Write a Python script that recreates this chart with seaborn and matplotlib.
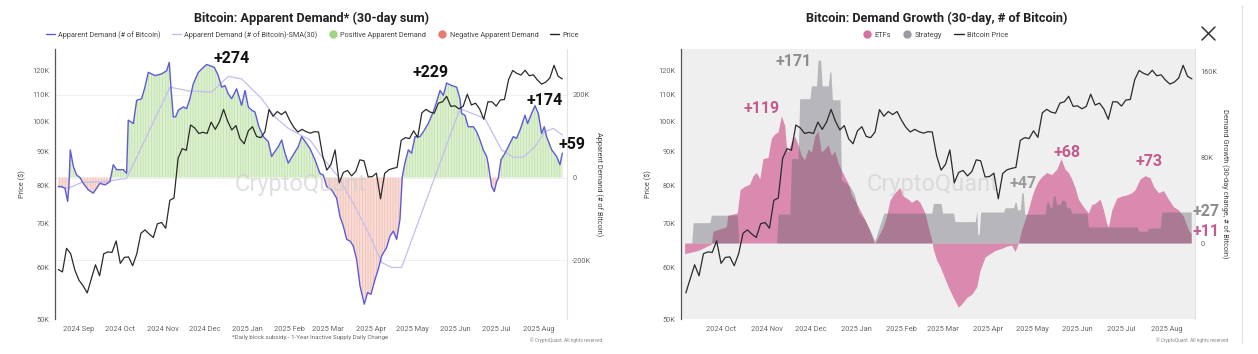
import matplotlib.pyplot as plt
import matplotlib.dates as mdates
import matplotlib.ticker as mticker
from matplotlib.lines import Line2D
import numpy as np
import pandas as pd
import seaborn as sns

sns.set_style('white')
plt.rcParams['font.family'] = ['Roboto', 'DejaVu Sans']
plt.rcParams['hatch.linewidth'] = 0.45

W, H = 1258, 354
DAY0 = pd.Timestamp('2024-09-01')

# BTC price (thousand $), every 3 days from 2024-08-17
price_k = [59.5, 59.0, 64.1, 62.9, 59.4,
           57.3, 56.2, 54.8, 57.6, 60.5, 58.2, 62.9, 63.3, 63.2, 65.8,
           60.8, 62.1, 62.2, 60.3, 62.9, 67.6, 68.4, 67.4, 66.6, 69.9, 70.2,
           68.8, 75.9, 76.5, 88.0, 91.0, 90.5, 98.9, 97.9, 96.0, 96.4,
           96.0, 99.9, 97.4, 100.0, 104.5, 100.2, 97.2, 98.7, 94.2, 92.6,
           96.9, 98.3, 95.0, 94.6, 96.5, 104.4, 102.0, 103.7, 102.6, 103.7,
           100.6, 98.1, 96.5, 97.4, 96.6, 96.1, 96.6, 96.5, 88.7, 84.4,
           86.1, 90.6, 80.7, 83.7, 84.3, 82.7, 84.0, 87.5, 87.2, 82.4,
           82.5, 83.5, 76.3, 83.4, 84.5, 84.9, 85.2, 93.7, 94.6, 94.3,
           96.9, 94.7, 103.2, 104.5, 103.5, 103.1, 106.8, 107.3, 109.4, 105.6,
           105.8, 104.7, 105.6, 110.2, 106.1, 106.8, 104.6, 100.9, 107.3, 107.3,
           105.7, 108.0, 108.2, 116.0, 119.8, 118.6, 117.9, 119.9, 117.6, 118.0, 115.8,
           114.2, 115.0, 116.7, 122.0, 117.4, 116.3]
price_dates = pd.date_range('2024-08-17', periods=len(price_k), freq='3D')

# apparent demand, 30-day sum (thousand BTC); x = days after 2024-09-01
demand_day = [-15.0, -12.6, -10.2, -8.2, -7.3, -6.3, -4.1, -1.7, 0.7, 3.1, 6.8, 10.4, 12.8, 15.3,
              18.9, 22.5, 24.9, 27.4, 32.2, 34.6, 35.8, 39.5, 41.9, 45.5, 47.9, 50.4, 52.8, 55.2,
              60.0, 63.7, 65.6, 66.8, 68.5, 70.2, 72.1, 75.8, 78.2, 80.6, 83.0, 86.7, 89.1, 92.7,
              95.1, 98.3, 101.2, 103.6, 106.0, 108.4, 110.9, 114.5, 118.1, 120.6, 123.0, 125.4,
              127.8, 130.7, 133.9, 137.5, 139.9, 142.3, 144.8, 147.2, 149.6, 152.0, 155.6, 159.3,
              161.7, 164.1, 167.8, 171.4, 175.0, 177.4, 179.9, 183.5, 187.1, 189.5, 192.0, 194.4,
              196.8, 199.2, 201.6, 204.1, 207.2, 209.6, 212.1, 215.0, 217.4, 219.8, 223.4, 225.9,
              228.3, 230.7, 233.1, 234.8, 236.7, 239.2, 241.6, 244.0, 247.6, 250.1, 253.7, 257.3,
              259.7, 262.2, 264.6, 267.0, 270.6, 274.3, 276.7, 277.9, 280.3, 282.7, 286.4, 288.8,
              291.2, 293.6, 296.1, 297.3, 299.7, 301.6, 303.3, 304.5, 306.5, 309.4, 313.0, 315.4,
              317.8, 320.3, 323.9, 325.8, 328.7, 331.2, 333.6, 336.0, 337.9, 339.6, 343.3, 346.9,
              349.3, 351.0]
demand_k = [-22, -22, -26, -58, -22, 67, 27, 6, 0, -14, -30, -38, -26, -14,
            -18, -10, 31, 19, 19, 10, 139, 131, 187, 191, 219, 255, 251, 247,
            251, 259, 279, 219, 147, 147, 163, 171, 167, 191, 227, 255, 263, 274,
            271, 267, 247, 219, 223, 203, 191, 215, 175, 211, 171, 163,
            159, 123, 99, 87, 51, 63, 75, 91, 59, 35, 55, 75,
            99, 88, 70, 43, 10, 6, -22, -30, -50, -94, -118, -150,
            -154, -166, -198, -263, -307, -279, -283, -247, -222, -190, -170, -142,
            -130, -150, -102, 2, 35, 67, 59, 99, 99, 111, 131, 159,
            183, 211, 199, 229, 223, 219, 191, 155, 151, 123, 123, 111,
            91, 67, 51, 31, -22, -34, -10, -2, 43, 59, 83, 99,
            95, 115, 151, 131, 155, 174, 155, 107, 123, 99, 67, 51,
            31, 59]

sma_day = [-15, -7.7, 1.9, 18.9, 34.6, 66.1, 79.4, 96.3, 108.4, 118.1, 132.7, 142.3, 152.0,
           167.8, 176.2, 188.3, 200.4, 212.6, 219.8, 227.1, 234.3, 276.7, 294.8, 306.9,
           315.4, 322.7, 331.2, 338.4, 344.5, 351.0]
sma_k = [-22, -26, -12, -10, -2, 219, 210, 207, 245, 239, 191, 147, 119,
         91, 51, 2, -70, -150, -206, -218, -218, 167, 143, 67,
         49, 49, 75, 111, 119, 103]

# demand growth, 30-day change (thousand BTC)
etf_day = [5.2, 14.3, 18.9, 23.4, 24.5, 31.0, 33.5, 34.6, 41.0, 43.0, 46.1, 49.5, 51.8, 54.1,
           56.4, 58.6, 62.0, 64.3, 66.6, 68.9, 71.1, 73.4, 74.5, 75.7, 78.0, 80.2, 82.5, 84.8,
           87.0, 89.3, 91.6, 93.9, 96.1, 98.4, 100.7, 103.0, 105.2, 107.5, 109.8, 112.1, 114.3,
           116.6, 118.9, 121.2, 123.5, 126.9, 128.0, 131.4, 134.8, 137.1, 140.5, 142.8, 145.1,
           148.5, 151.9, 154.2, 157.6, 159.9, 163.3, 165.6, 169.0, 171.3, 173.6, 174.7, 177.0,
           179.3, 184.9, 188.3, 191.8, 194.1, 197.5, 200.9, 204.3, 206.5, 210.0, 213.4, 216.8,
           221.3, 224.7, 228.1, 230.4, 232.7, 235.0, 239.5, 241.8, 244.1, 246.3, 248.6, 252.0,
           255.4, 258.8, 261.8, 264.5, 266.8, 269.0, 271.3, 273.6, 277.0, 280.4, 282.7, 285.0,
           288.4, 290.7, 292.9, 294.1, 296.4, 299.8, 303.2, 306.6, 310.0, 312.3, 315.7, 319.1,
           322.5, 324.8, 328.2, 331.6, 335.0, 338.4, 341.8, 345.2, 348.7, 350.5]
etf_k = [-10, -7, -4, -1, 11, 14, 15, 26, 28, 50, 53, 55, 63, 66,
         60, 79, 80, 98, 102, 104, 119, 110, 91, 85, 95, 100, 92, 82,
         78, 88, 85, 100, 105, 85, 88, 92, 82, 86, 75, 68, 62,
         56, 45, 40, 34, 25, 22, 12, -1, 6, 15, 25, 40,
         47, 52, 44, 41, 38, 41, 38, 28, 15, 3, -6, -16,
         -22, -41, -51, -60, -57, -51, -48, -41, -26, -13, -10, -7,
         -5, -3, -2, -8, 0, 13, 31, 43, 52, 58, 62, 66,
         64, 69, 79, 69, 66, 60, 52, 41, 34, 28, 36, 37,
         41, 31, 18, 15, 31, 42, 44, 45, 47, 50, 60, 63,
         61, 53, 47, 49, 41, 34, 31, 25, 12, 9]

strategy_day = [5.2, 10.0, 11.0, 22.4, 23.4, 41.0, 42.0, 67.9, 68.9, 77.0, 78.0, 82.6, 83.6, 90.6,
                91.6, 95.1, 96.1, 97.9, 98.9, 103.1, 104.1, 104.9, 105.9, 111.1, 112.1, 118.0,
                121.0, 124.0, 128.0, 134.8, 141.0, 173.7, 174.7, 180.0, 181.0, 188.5, 189.5,
                203.3, 204.3, 205.0, 206.0, 207.0, 222.6, 223.6, 229.4, 230.4, 231.2, 232.2,
                234.0, 235.0, 236.0, 237.0, 251.0, 252.0, 253.3, 254.3, 255.6, 256.6, 257.8,
                258.8, 261.2, 262.2, 264.6, 265.6, 268.0, 269.0, 279.4, 280.4, 313.6, 314.6,
                320.4, 321.4, 329.5, 330.5, 350.5]
strategy_k = [0, 0, 19, 19, 26, 26, 0, 0, 27, 27, 79, 79, 135, 135,
              147, 147, 171, 171, 147, 147, 160, 160, 134, 134, 59, 53,
              45, 28, 22, 2, 28, 28, 37, 37, 28, 28, 20,
              20, 30, 8, 8, 29, 29, 33, 33, 38, 38, 31,
              31, 47, 47, 27, 27, 38, 38, 33, 33, 44, 44,
              36, 36, 40, 40, 33, 33, 28, 28, 15, 15, 11,
              11, 14, 14, 29, 29]


def to_dates(days):
    return DAY0 + pd.to_timedelta(np.asarray(days, dtype=float), unit='D')


def px_box(x0, y0, x1, y1):
    return [x0 / W, 1 - y1 / H, (x1 - x0) / W, (y1 - y0) / H]


def kfmt(v, pos):
    return '0' if v == 0 else f'{int(round(v / 1000))}K'


def style_price_axis(ax, xlim):
    ax.set_yscale('log')
    ax.set_ylim(50000, 129200)
    ax.yaxis.set_major_locator(mticker.FixedLocator([50000, 60000, 70000, 80000, 90000,
                                                     100000, 110000, 120000]))
    ax.yaxis.set_minor_locator(mticker.NullLocator())
    ax.yaxis.set_major_formatter(mticker.FuncFormatter(kfmt))
    ax.set_xlim(*xlim)
    ax.xaxis.set_major_locator(mdates.MonthLocator())
    ax.xaxis.set_major_formatter(mdates.DateFormatter('%Y %b'))
    ax.tick_params(axis='both', length=0, labelsize=5.3, colors='#666')
    ax.tick_params(axis='x', pad=5)
    ax.tick_params(axis='y', pad=4)
    ax.set_xlabel('')
    ax.set_ylabel('Price ($)', fontsize=5.3, color='#444', labelpad=4)
    for s in ['top', 'right', 'bottom']:
        ax.spines[s].set_visible(False)
    ax.spines['left'].set_color('#555')
    ax.spines['left'].set_linewidth(0.9)


fig = plt.figure(figsize=(W / 100, H / 100), dpi=100)

# ---------------- left chart ----------------
ax1 = fig.add_axes(px_box(55, 49, 566.7, 319))
axd = ax1.twinx()
ax1.set_zorder(axd.get_zorder() + 1)
ax1.patch.set_visible(False)

dd = to_dates(demand_day)
dv = np.array(demand_k) * 1000.0
sns.lineplot(x=dd, y=dv, ax=axd, color='#5c5cd8', linewidth=1.0, zorder=4)
axd.fill_between(dd, 0, dv, where=dv >= 0, interpolate=True, facecolor='#ddf0d0',
                 edgecolor='#b9dea2', hatch='||||||', linewidth=0, zorder=2)
axd.fill_between(dd, 0, dv, where=dv <= 0, interpolate=True, facecolor='#f8dcd5',
                 edgecolor='#eeb9ae', hatch='||||||', linewidth=0, zorder=2)
sns.lineplot(x=to_dates(sma_day), y=np.array(sma_k) * 1000.0, ax=axd, color='#c3bdf0',
             linewidth=0.9, zorder=3)
axd.set_ylim(-343000, 311500)
axd.set_yticks([-200000, 0, 200000])
axd.yaxis.set_major_formatter(mticker.FuncFormatter(kfmt))
axd.tick_params(axis='y', length=0, labelsize=5.3, colors='#666', pad=4)
axd.grid(axis='y', color='#ececec', linewidth=0.6)
axd.set_axisbelow(True)
axd.set_ylabel('Apparent Demand (# of Bitcoin)', rotation=270, fontsize=5.3, color='#444',
               labelpad=8)
for s in ['top', 'left', 'bottom']:
    axd.spines[s].set_visible(False)
axd.spines['right'].set_color('#e2e2e2')
axd.spines['right'].set_linewidth(0.8)

sns.lineplot(x=price_dates, y=np.array(price_k) * 1000.0, ax=ax1, color='#2a2a2a',
             linewidth=0.9)
style_price_axis(ax1, (DAY0 + pd.Timedelta(days=-17.4), DAY0 + pd.Timedelta(days=354.2)))

axd.text(0.48, 0.5, 'CryptoQuant', transform=axd.transAxes, fontsize=17, color='#d2d2d2',
         alpha=0.7, ha='center', va='center', zorder=10)
for day, val, txt in [(110.9, 289000, '+274'), (255.1, 255000, '+229'),
                      (338.4, 186000, '+174'), (358.0, 81000, '+59')]:
    axd.text(DAY0 + pd.Timedelta(days=day), val, txt, fontsize=11.5, fontweight='bold',
             color='#111', ha='center', va='center', zorder=12, clip_on=False)

fig.text(312 / W, 1 - 18 / H, 'Bitcoin: Apparent Demand* (30-day sum)', ha='center',
         va='center', fontsize=9.2, fontweight='bold', color='#222')
h_left = [Line2D([], [], color='#5c5cd8', lw=1.0),
          Line2D([], [], color='#c3bdf0', lw=1.0),
          Line2D([], [], color='#9fd483', marker='o', ls='none', markersize=5),
          Line2D([], [], color='#e57c72', marker='o', ls='none', markersize=5),
          Line2D([], [], color='#222', lw=1.0)]
l_left = ['Apparent Demand (# of Bitcoin)', 'Apparent Demand (# of Bitcoin)-SMA(30)',
          'Positive Apparent Demand', 'Negative Apparent Demand', 'Price']
fig.legend(h_left, l_left, loc='center', bbox_to_anchor=(312 / W, 1 - 35 / H), ncol=5,
           frameon=False, fontsize=5.2, handlelength=1.3, handletextpad=0.4,
           columnspacing=1.55, labelcolor='#444')
fig.text(232 / W, 1 - 338 / H, '*Daily block subsidy - 1-Year Inactive Supply Daily Change',
         ha='left', va='center', fontsize=4.4, color='#666')
fig.text(602 / W, 1 - 340 / H, '\u00a9 CryptoQuant. All rights reserved', ha='right',
         va='center', fontsize=3.4, color='#888')

# ---------------- right chart ----------------
ax2 = fig.add_axes(px_box(680.7, 49, 1195, 319))
axg = ax2.twinx()
ax2.set_zorder(axg.get_zorder() + 1)
ax2.patch.set_visible(False)
axg.patch.set_visible(True)
axg.patch.set_facecolor('#efefef')

ed = to_dates(etf_day)
ev = np.array(etf_k) * 1000.0
sd = to_dates(strategy_day)
sv = np.array(strategy_k) * 1000.0
axg.fill_between(ed, 0, ev, facecolor='#cf5a90', alpha=0.68, linewidth=0)
axg.fill_between(sd, 0, sv, facecolor='#64646e', alpha=0.4, linewidth=0)
axg.set_ylim(-71100, 181500)
axg.set_yticks([0, 80000, 160000])
axg.yaxis.set_major_formatter(mticker.FuncFormatter(kfmt))
axg.tick_params(axis='y', length=0, labelsize=5.3, colors='#666', pad=4)
axg.set_ylabel('Demand Growth (30-day change, # of Bitcoin)', rotation=270, fontsize=5.3,
               color='#444', labelpad=8)
for s in ['top', 'left', 'bottom']:
    axg.spines[s].set_visible(False)
axg.spines['right'].set_color('#e2e2e2')

mask = price_dates >= pd.Timestamp('2024-09-06')
sns.lineplot(x=price_dates[mask], y=np.array(price_k)[mask] * 1000.0, ax=ax2,
             color='#2a2a2a', linewidth=0.9)
style_price_axis(ax2, (DAY0 + pd.Timedelta(days=2.5), DAY0 + pd.Timedelta(days=353.1)))

axg.text(0.49, 0.5, 'CryptoQuant', transform=axg.transAxes, fontsize=17, color='#d2d2d2',
         alpha=0.7, ha='center', va='center', zorder=10)
for day, val, txt, col in [(79.6, 169600, '+171', '#8c8c8c'), (57.5, 126000, '+119', '#c25a8e'),
                           (236.1, 55800, '+47', '#9a9a9a'), (266.1, 84500, '+68', '#c25a8e'),
                           (321.8, 76000, '+73', '#c25a8e'), (360.6, 29300, '+27', '#8c8c8c'),
                           (360.8, 11200, '+11', '#c25a8e')]:
    axg.text(DAY0 + pd.Timedelta(days=day), val, txt, fontsize=11.5, fontweight='bold',
             color=col, ha='center', va='center', zorder=12, clip_on=False)

fig.text(937 / W, 1 - 18 / H, 'Bitcoin: Demand Growth (30-day, # of Bitcoin)', ha='center',
         va='center', fontsize=9.2, fontweight='bold', color='#222')
h_right = [Line2D([], [], color='#d571a2', marker='o', ls='none', markersize=5),
           Line2D([], [], color='#9a9aa4', marker='o', ls='none', markersize=5),
           Line2D([], [], color='#222', lw=1.0)]
fig.legend(h_right, ['ETFs', 'Strategy', 'Bitcoin Price'], loc='center',
           bbox_to_anchor=(935 / W, 1 - 35 / H), ncol=3, frameon=False, fontsize=5.3,
           handlelength=1.3, handletextpad=0.4, columnspacing=1.6, labelcolor='#444')
fig.text(1228 / W, 1 - 340 / H, '\u00a9 CryptoQuant. All rights reserved', ha='right',
         va='center', fontsize=3.4, color='#888')

# close icon and panel edge of the screenshot
fig.add_artist(Line2D([1202 / W, 1215 / W], [1 - 27 / H, 1 - 40 / H], color='#333', lw=1.1))
fig.add_artist(Line2D([1202 / W, 1215 / W], [1 - 40 / H, 1 - 27 / H], color='#333', lw=1.1))
fig.add_artist(Line2D([1242 / W, 1242 / W], [1 - 5 / H, 1 - 343 / H], color='#e0e0e0', lw=0.8))

fig.savefig('out.png', dpi=100)
